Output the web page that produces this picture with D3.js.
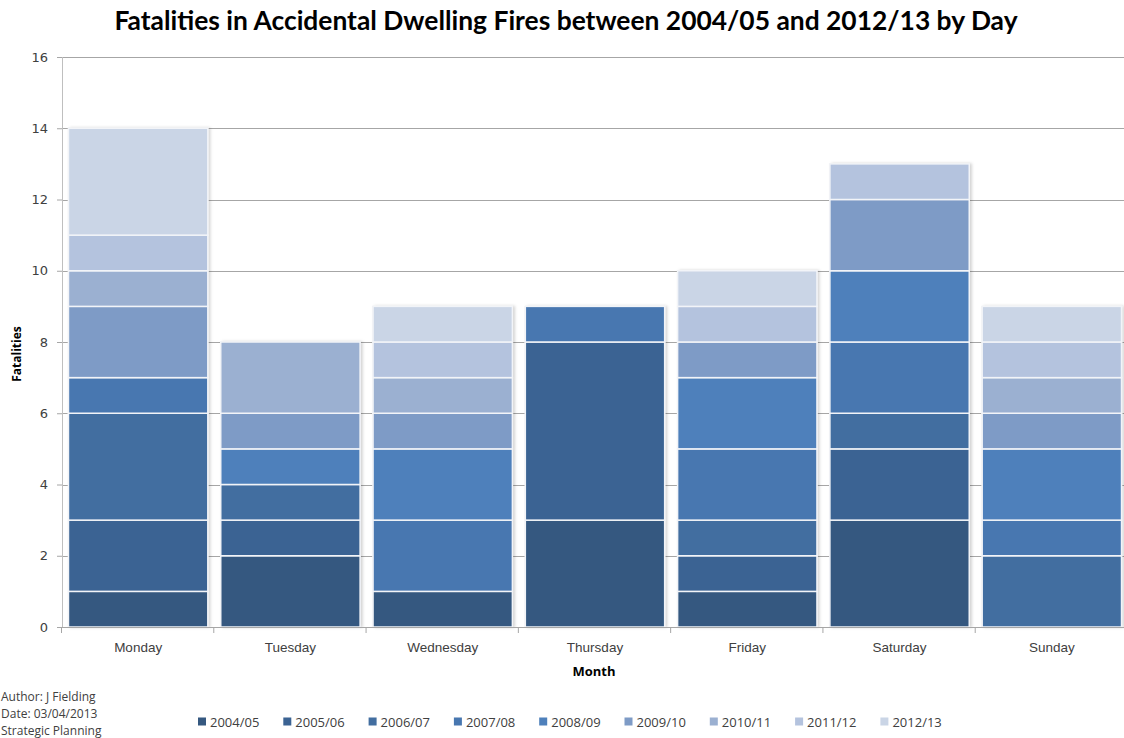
<!DOCTYPE html>
<html>
<head>
<meta charset="utf-8">
<script src="https://cdn.jsdelivr.net/npm/d3@7"></script>
<style>
  body { margin: 0; background: #fff; }
  svg { display: block; font-family: "Open Sans", sans-serif; }
</style>
</head>
<body>
<svg id="chart" width="1124" height="738"></svg>
<script>
// data
var days = ["Monday", "Tuesday", "Wednesday", "Thursday", "Friday", "Saturday", "Sunday"];
var years = ["2004/05", "2005/06", "2006/07", "2007/08", "2008/09", "2009/10", "2010/11", "2011/12", "2012/13"];
var yearColors = ["#355880", "#3b6393", "#426ea0", "#4877b0", "#4e80bb", "#7e9bc6", "#9bb0d1", "#b4c3de", "#cad5e6"];
// fatalities per year, one value per day (Mon..Sun)
var y2004 = [1, 2, 1, 3, 1, 3, 0];
var y2005 = [2, 1, 0, 5, 1, 2, 0];
var y2006 = [3, 1, 0, 0, 1, 1, 2];
var y2007 = [1, 0, 2, 1, 2, 2, 1];
var y2008 = [0, 1, 2, 0, 2, 2, 2];
var y2009 = [2, 1, 1, 0, 1, 2, 1];
var y2010 = [1, 2, 1, 0, 0, 0, 1];
var y2011 = [1, 0, 1, 0, 1, 1, 1];
var y2012 = [3, 0, 1, 0, 1, 0, 1];
var yTicks = [0, 2, 4, 6, 8, 10, 12, 14, 16];

var series = [y2004, y2005, y2006, y2007, y2008, y2009, y2010, y2011, y2012];

var rows = days.map(function (d, i) {
    var r = { day: d };
    years.forEach(function (y, j) { r[y] = series[j][i]; });
    return r;
});

var svg = d3.select('#chart');
var margin = { top: 57, left: 62, bottom: 111, right: -4 };
var width = 1124, height = 738;

var x = d3.scaleBand().domain(days)
    .range([margin.left, width - margin.right]).paddingInner(0.085).paddingOuter(0.0425);
var y = d3.scaleLinear().domain([0, 16]).range([height - margin.bottom, margin.top]);
var color = d3.scaleOrdinal().domain(years).range(yearColors);

var defs = svg.append("defs");
var f = defs.append("filter").attr("id", "shadow").attr("x", "-5%").attr("y", "-5%").attr("width", "115%").attr("height", "115%");
f.append("feDropShadow").attr("dx", 2).attr("dy", 0).attr("stdDeviation", 1.5).attr("flood-color", "#000").attr("flood-opacity", 0.18);

// gridlines
svg.append("g").selectAll("line").data(yTicks.slice(1)).enter().append("line")
    .attr("x1", margin.left).attr("x2", width)
    .attr("y1", function (d) { return Math.round(y(d)) + 0.5; })
    .attr("y2", function (d) { return Math.round(y(d)) + 0.5; })
    .attr("stroke", "#a6a6a6").attr("stroke-width", 1);

// bars
var stack = d3.stack().keys(years)(rows);
var bars = svg.append("g");
days.forEach(function (day, i) {
    var total = d3.sum(series, function (s) { return s[i]; });
    bars.append("rect")
        .attr("x", x(day)).attr("y", y(total))
        .attr("width", x.bandwidth()).attr("height", y(0) - y(total))
        .attr("fill", "#fff").attr("stroke", "#e0e0e0")
        .attr("filter", "url(#shadow)");
});
bars.selectAll("g.layer").data(stack).enter().append("g")
    .attr("class", "layer")
    .attr("fill", function (d) { return color(d.key); })
    .selectAll("rect")
    .data(function (d) { return d.filter(function (p) { return p[1] > p[0]; }); })
    .enter().append("rect")
    .attr("x", function (d) { return x(d.data.day); })
    .attr("y", function (d) { return y(d[1]); })
    .attr("width", x.bandwidth())
    .attr("height", function (d) { return y(d[0]) - y(d[1]); })
    .attr("stroke", "#f2f4f8").attr("stroke-width", 1.5);

// axes
var yAxis = d3.axisLeft(y).tickValues(yTicks).tickSize(5).tickPadding(9);
var gy = svg.append("g").attr("transform", "translate(" + margin.left + ",0)").call(yAxis);
gy.select(".domain").attr("stroke", "#bfbfbf").attr("d", "M0.5," + y(16) + "V" + y(0));
gy.selectAll(".tick line").attr("stroke", "#a6a6a6");
gy.selectAll("text").attr("fill", "#404040").style("font-size", "13px").style("font-family", "'DejaVu Sans', sans-serif");

var xAxis = d3.axisBottom(x).tickSize(0).tickPadding(15);
var gx = svg.append("g").attr("transform", "translate(0," + y(0) + ")").call(xAxis);
gx.select(".domain").attr("stroke", "#a6a6a6").attr("d", "M" + margin.left + ",0.5H" + width);
gx.selectAll("text").attr("fill", "#404040").style("font-size", "13.5px");
// category boundary ticks
var step = x.step();
gx.selectAll("line.sep").data(d3.range(days.length)).enter().append("line")
    .attr("class", "sep")
    .attr("x1", function (i) { return x(days[i]) - step * x.paddingInner() / 2 - 0.5; })
    .attr("x2", function (i) { return x(days[i]) - step * x.paddingInner() / 2 - 0.5; })
    .attr("y1", 0).attr("y2", 6).attr("stroke", "#a6a6a6");

// title and axis labels
svg.append("text").attr("x", 566).attr("y", 30).attr("text-anchor", "middle")
    .style("font-family", "Lato, sans-serif").style("font-weight", "bold").style("font-size", "26.4px")
    .attr("fill", "#000").text("Fatalities in Accidental Dwelling Fires between 2004/05 and 2012/13 by Day");

svg.append("text").attr("x", 594).attr("y", 676).attr("text-anchor", "middle")
    .style("font-weight", "bold").style("font-size", "13px").attr("fill", "#000").text("Month");

svg.append("text").attr("transform", "translate(21,354) rotate(-90)").attr("text-anchor", "middle")
    .style("font-weight", "bold").style("font-size", "12px").attr("fill", "#000").text("Fatalities");

// legend
var legend = svg.append("g").attr("transform", "translate(198,722)");
var li = legend.selectAll("g").data(years).enter().append("g")
    .attr("transform", function (d, i) { return "translate(" + (i * 85.3) + ",0)"; });
li.append("rect").attr("x", 0).attr("y", -4.5).attr("width", 8).attr("height", 8)
    .attr("fill", function (d) { return color(d); });
li.append("text").attr("x", 12).attr("y", 5).style("font-size", "13px").attr("fill", "#404040")
    .text(function (d) { return d; });

// footer
var notes = ["Author:  J Fielding", "Date: 03/04/2013", "Strategic Planning"];
svg.append("g").selectAll("text").data(notes).enter().append("text")
    .attr("x", 1).attr("y", function (d, i) { return 701 + i * 17; })
    .style("font-size", "12px").attr("fill", "#404040")
    .text(function (d) { return d; });
</script>
</body>
</html>
